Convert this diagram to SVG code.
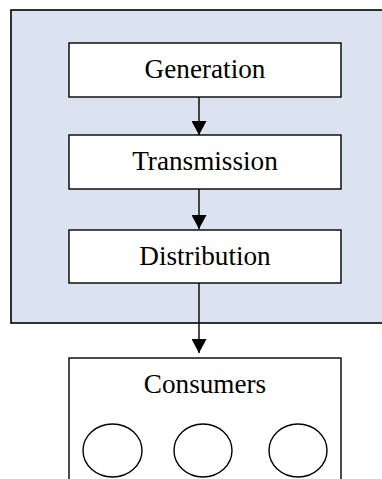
<svg xmlns="http://www.w3.org/2000/svg" width="382" height="479" viewBox="0 0 382 479">
<defs>
<style>
.box{fill:#ffffff;stroke:#000;stroke-width:1.4}
.lbl{font-family:"Liberation Serif","Times New Roman",serif;font-size:27.2px;fill:#000;text-anchor:middle}
.conn{stroke:#000;stroke-width:1.4;fill:none}
.circ{fill:#fff;stroke:#000;stroke-width:1.4}
</style>
<marker id="arr" markerWidth="14" markerHeight="15" refX="14" refY="7.5" orient="auto" markerUnits="userSpaceOnUse">
<path d="M0,0 L14,7.5 L0,15 Z" fill="#000"/>
</marker>
</defs>
<g id="system">
<rect x="11" y="10" width="380" height="313" fill="#dae3ef" stroke="#000" stroke-width="1.6"/>
</g>
<g id="generation">
<rect class="box" x="69" y="43" width="272" height="54"/>
<text class="lbl" x="205" y="78">Generation</text>
</g>
<g id="transmission">
<rect class="box" x="69" y="135" width="272" height="54"/>
<text class="lbl" x="205" y="170">Transmission</text>
</g>
<g id="distribution">
<rect class="box" x="69" y="230" width="272" height="53"/>
<text class="lbl" x="205" y="265">Distribution</text>
</g>
<g id="consumers">
<rect class="box" x="69" y="358" width="272" height="140"/>
<text class="lbl" x="205" y="393">Consumers</text>
<ellipse class="circ" cx="112.5" cy="450.5" rx="29.5" ry="26.5"/>
<ellipse class="circ" cx="203" cy="450.5" rx="29" ry="26.5"/>
<ellipse class="circ" cx="298" cy="450.5" rx="29" ry="26.5"/>
</g>
<g id="connectors">
<line class="conn" x1="199" y1="97" x2="199" y2="135" marker-end="url(#arr)"/>
<line class="conn" x1="199" y1="189" x2="199" y2="229" marker-end="url(#arr)"/>
<line class="conn" x1="199" y1="283" x2="199" y2="353" marker-end="url(#arr)"/>
</g>
</svg>
